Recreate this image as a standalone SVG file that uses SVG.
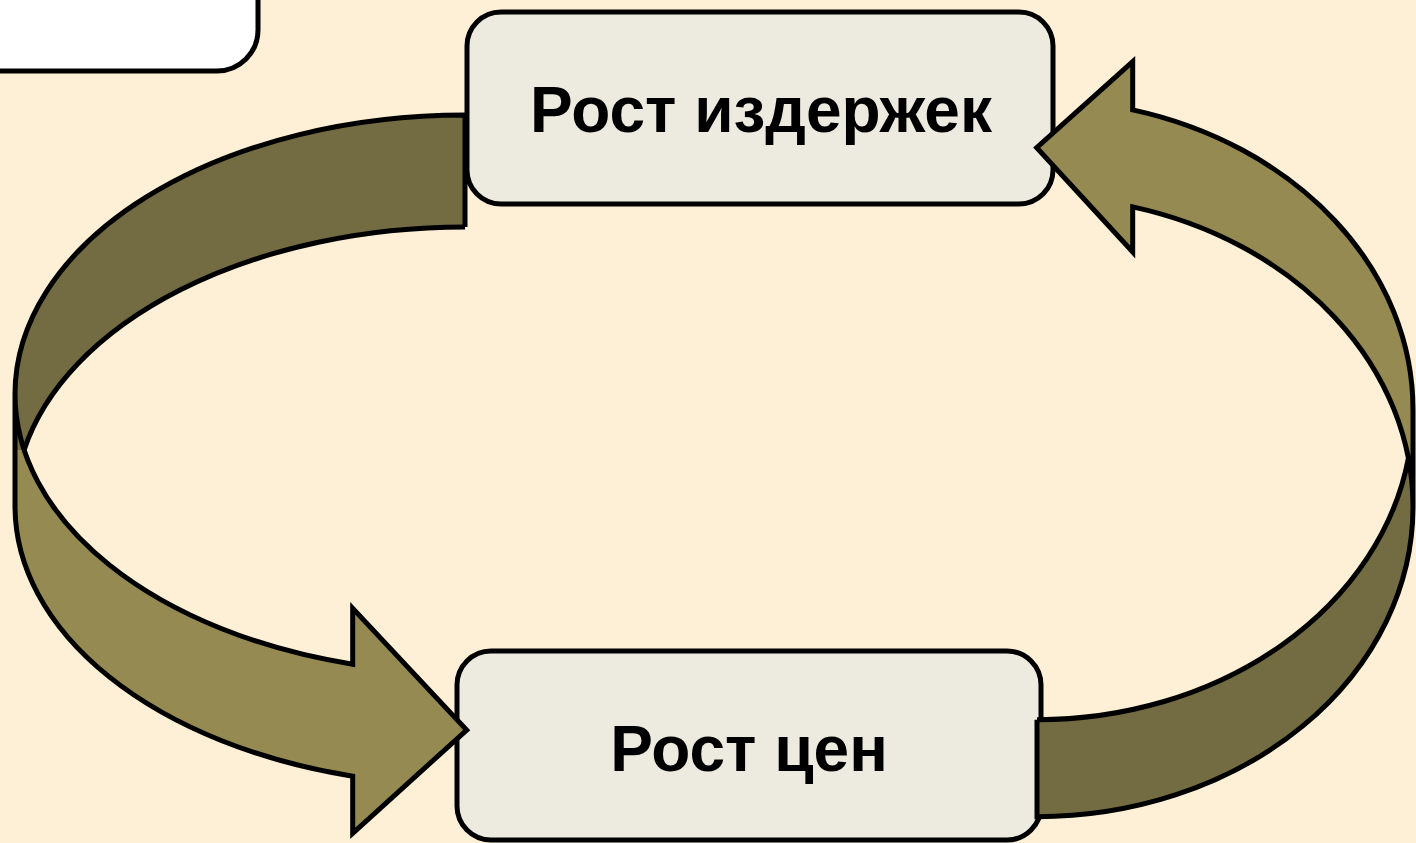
<svg xmlns="http://www.w3.org/2000/svg" width="1416" height="843" viewBox="0 0 1416 843">
  <style>
    .bg { fill: #FDF0D7; }
    .box { fill: #EDEBE0; stroke: #000; stroke-width: 5; }
    .boxw { fill: #FFFFFF; stroke: #000; stroke-width: 5; }
    .label { font-family: "Liberation Sans", Arial, sans-serif; font-weight: bold; font-size: 64px; fill: #000; text-anchor: middle; }
    .dark { fill: #736B42; stroke: none; }
    .light { fill: #948A52; stroke: none; }
    .outline { fill: none; stroke: #000; stroke-width: 5; stroke-linejoin: miter; stroke-miterlimit: 10; }
  </style>
  <rect class="bg" x="0" y="0" width="1416" height="843"/>

  <g id="node-corner">
    <rect class="boxw" x="-60" y="-60" width="318" height="131" rx="41" ry="41"/>
  </g>

  <g id="node-costs">
    <rect class="box" x="467" y="12" width="586" height="192" rx="34" ry="34"/>
    <text class="label" x="761" y="132">Рост издержек</text>
  </g>

  <g id="node-prices">
    <rect class="box" x="457" y="651" width="584" height="189" rx="34" ry="34"/>
    <text class="label" x="749" y="771">Рост цен</text>
  </g>

  <g id="connectors">
    <g id="arrow-left">
      <path class="dark" d="M 465,115 A 450 279 0 0 0 15,394 L 15,450 L 24.1,450 A 450 279 0 0 1 465,227 Z"/>
      <path class="light" d="M 15,450 L 24.1,450 A 450 279 0 0 0 352.7,664.2 L 352.7,608.3 L 466.7,730 L 352.7,833.3 L 352.7,776.2 A 450 279 0 0 1 15,506 Z"/>
      <path class="outline" d="M 465,227 L 465,115 A 450 279 0 0 0 15,394 L 15,506 A 450 279 0 0 0 352.7,776.2 L 352.7,833.3 L 466.7,730 L 352.7,608.3 L 352.7,664.2 A 450 279 0 0 1 15,394"/>
      <path class="outline" d="M 465,227 A 450 279 0 0 0 24.1,450"/>
    </g>
    <g id="arrow-right">
      <path class="dark" d="M 1037,816.7 A 376 310 0 0 0 1413,506.7 L 1413,458.2 L 1408.4,458.2 A 376 310 0 0 1 1037,719.7 Z"/>
      <path class="light" d="M 1413,458.2 L 1408.4,458.2 A 376 310 0 0 0 1132.7,206.9 L 1132.7,252 L 1036.7,147.7 L 1132.7,61.7 L 1132.7,109.9 A 376 310 0 0 1 1413,409.7 Z"/>
      <path class="outline" d="M 1037,719.7 L 1037,816.7 A 376 310 0 0 0 1413,506.7 L 1413,409.7 A 376 310 0 0 0 1132.7,109.9 L 1132.7,61.7 L 1036.7,147.7 L 1132.7,252 L 1132.7,206.9 A 376 310 0 0 1 1413,506.7"/>
      <path class="outline" d="M 1037,719.7 A 376 310 0 0 0 1408.4,458.2"/>
    </g>
  </g>
</svg>
